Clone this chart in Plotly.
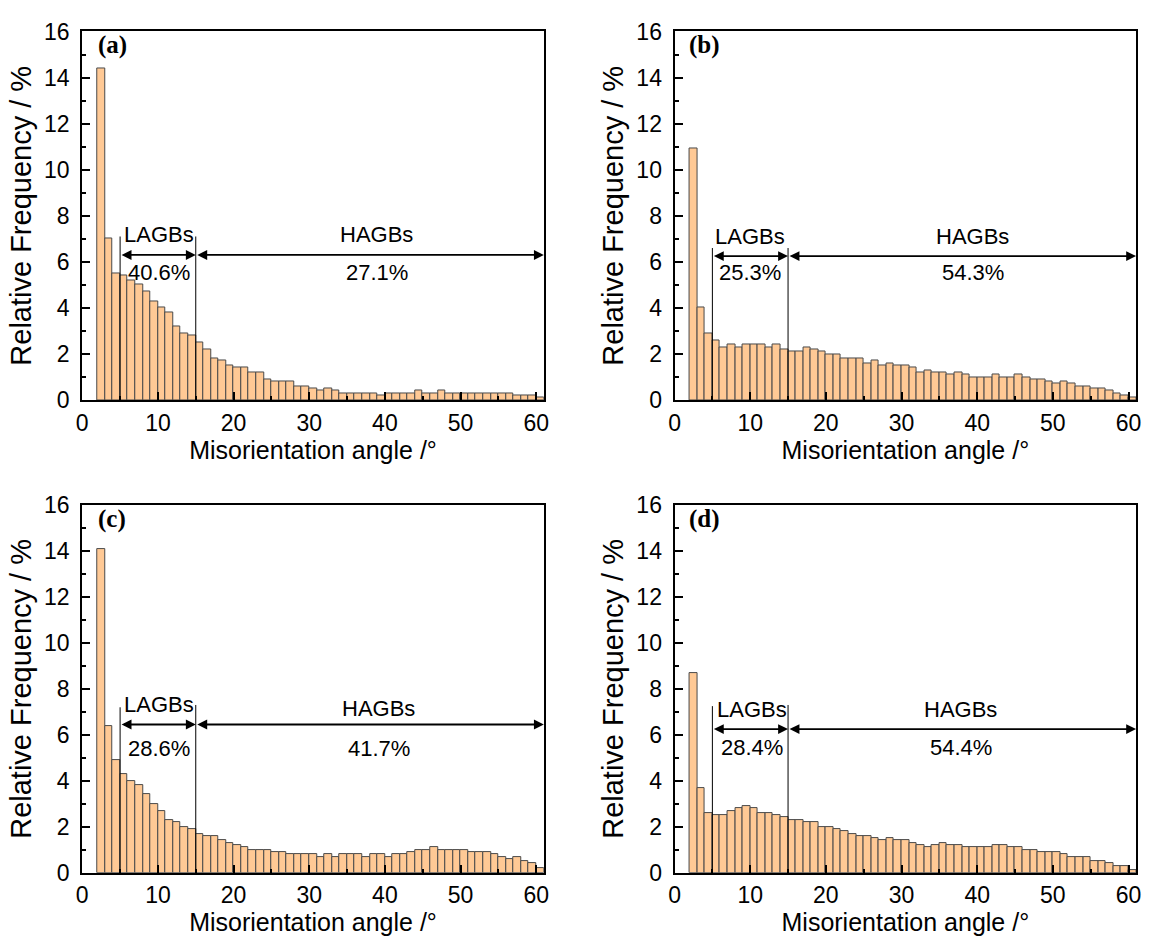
import numpy as np
import plotly.graph_objects as go

# Misorientation angle bins (1 degree wide, left edges 2..60)
bin_left = np.arange(2, 61)
bin_center = bin_left + 0.5

freq_a = [14.4, 7.0, 5.5, 5.4, 5.2, 5.0, 4.7, 4.3, 4.0, 3.8, 3.2, 2.9, 2.8, 2.5, 2.2,
          1.8, 1.7, 1.5, 1.4, 1.4, 1.2, 1.2, 0.9, 0.8, 0.8, 0.8, 0.6, 0.6, 0.5, 0.4,
          0.5, 0.4, 0.3, 0.3, 0.3, 0.3, 0.3, 0.2, 0.3, 0.3, 0.3, 0.3, 0.4, 0.3, 0.3,
          0.4, 0.3, 0.3, 0.3, 0.3, 0.3, 0.3, 0.3, 0.3, 0.3, 0.2, 0.2, 0.2, 0.1]
freq_b = [10.9, 4.0, 2.9, 2.6, 2.3, 2.4, 2.3, 2.4, 2.4, 2.4, 2.3, 2.4, 2.2, 2.1, 2.1,
          2.3, 2.2, 2.1, 2.0, 2.0, 1.8, 1.8, 1.8, 1.6, 1.7, 1.5, 1.6, 1.5, 1.5, 1.4,
          1.2, 1.3, 1.2, 1.2, 1.1, 1.2, 1.1, 1.0, 1.0, 1.0, 1.1, 1.0, 1.0, 1.1, 1.0,
          0.9, 0.9, 0.8, 0.7, 0.8, 0.7, 0.6, 0.6, 0.5, 0.5, 0.4, 0.3, 0.2, 0.1]
freq_c = [14.1, 6.4, 4.9, 4.3, 4.0, 3.8, 3.4, 3.0, 2.7, 2.3, 2.2, 2.0, 1.9, 1.7, 1.6,
          1.6, 1.4, 1.3, 1.2, 1.1, 1.0, 1.0, 1.0, 0.9, 0.9, 0.8, 0.8, 0.8, 0.8, 0.7,
          0.8, 0.7, 0.8, 0.8, 0.8, 0.7, 0.8, 0.8, 0.7, 0.8, 0.8, 0.9, 1.0, 1.0, 1.1,
          1.0, 1.0, 1.0, 1.0, 0.9, 0.9, 0.9, 0.8, 0.7, 0.6, 0.7, 0.5, 0.4, 0.2]
freq_d = [8.7, 3.7, 2.6, 2.5, 2.5, 2.7, 2.8, 2.9, 2.8, 2.6, 2.6, 2.5, 2.4, 2.3, 2.3,
          2.2, 2.2, 2.0, 2.0, 1.9, 1.8, 1.7, 1.6, 1.6, 1.5, 1.4, 1.5, 1.4, 1.4, 1.3,
          1.2, 1.1, 1.2, 1.3, 1.2, 1.2, 1.1, 1.1, 1.1, 1.1, 1.2, 1.2, 1.1, 1.1, 1.0,
          1.0, 0.9, 0.9, 0.9, 0.8, 0.7, 0.7, 0.7, 0.5, 0.5, 0.4, 0.3, 0.3, 0.1]

panel_tags = ["(a)", "(b)", "(c)", "(d)"]
lagb_share = ["40.6%", "25.3%", "28.6%", "28.4%"]
hagb_share = ["27.1%", "54.3%", "41.7%", "54.4%"]

# LAGB / HAGB boundaries (degrees)
lagb_start, hagb_start, angle_max = 5, 15, 61

# per-panel annotation heights (data units)
marker_top = [(7.1, 7.1), (6.6, 6.6), (7.2, 7.3), (7.25, 7.3)]
marker_bottom = [(0, 0), (0, 0), (0, -0.3), (0, -0.35)]
arrow_y = [6.3, 6.25, 6.45, 6.25]
lagb_label_y = [7.2, 7.1, 7.3, 7.1]
hagb_label_y = [7.2, 7.1, 7.15, 7.1]
share_y = [5.55, 5.55, 5.4, 5.45]
lagb_label_x = [10.2, 10.0, 10.1, 10.3]
hagb_label_x = [38.9, 39.4, 39.2, 37.8]

freqs = [freq_a, freq_b, freq_c, freq_d]

W, H = 1151, 946
# plot-area pixel boxes (left, right, top, bottom)
boxes = [(77, 543, 19, 398), (675, 1141, 19, 398),
         (77, 543, 506, 884), (675, 1141, 506, 884)]

FONT = "Liberation Sans, Arial, sans-serif"
fig = go.Figure()

layout = dict(width=W, height=H, margin=dict(l=0, r=0, t=0, b=0),
              plot_bgcolor="white", paper_bgcolor="white", showlegend=False,
              bargap=0, font=dict(family=FONT, color="black"))
annotations, shapes = [], []

for i, vals in enumerate(freqs):
    n = i + 1
    xa = "x" if n == 1 else f"x{n}"
    ya = "y" if n == 1 else f"y{n}"
    l, r, t, b = boxes[i]
    fig.add_trace(go.Bar(x=bin_center, y=vals, width=1.0, xaxis=xa, yaxis=ya,
                         marker=dict(color="#FFC995",
                                     line=dict(color="#4a4a4a", width=1))))
    axis_common = dict(showline=True, linecolor="black", linewidth=2, mirror=True,
                       showgrid=False, zeroline=False, ticks="inside",
                       tickcolor="black", tickwidth=1.5, ticklen=8,
                       tickfont=dict(family=FONT, size=23, color="black"))
    layout["xaxis" if n == 1 else f"xaxis{n}"] = dict(
        axis_common, domain=[l / W, r / W], anchor=ya, range=[0, angle_max],
        tickvals=[0, 10, 20, 30, 40, 50, 60], ticklabelstandoff=1,
        minor=dict(dtick=5, ticks="inside", ticklen=4, tickcolor="black", tickwidth=1.5),
        title=dict(text="Misorientation angle /°", font=dict(family=FONT, size=25),
                   standoff=3))
    layout["yaxis" if n == 1 else f"yaxis{n}"] = dict(
        axis_common, domain=[1 - b / H, 1 - t / H], anchor=xa, range=[0, 16],
        tickvals=list(range(0, 17, 2)), ticklabelstandoff=6,
        minor=dict(dtick=1, ticks="inside", ticklen=4, tickcolor="black", tickwidth=1.5),
        title=dict(text="Relative Frequency / %", font=dict(family=FONT, size=29),
                   standoff=4))

    # boundary markers at 5 deg and 15 deg
    for xv, bot, top in zip((lagb_start, hagb_start), marker_bottom[i], marker_top[i]):
        shapes.append(dict(type="line", xref=xa, yref=ya, x0=xv, x1=xv, y0=bot, y1=top,
                           line=dict(color="black", width=1)))
    # double-headed range arrows
    for x0, x1 in ((lagb_start, hagb_start), (hagb_start, angle_max)):
        annotations.append(dict(xref=xa, yref=ya, axref=xa, ayref=ya,
                                x=x1, y=arrow_y[i], ax=x0, ay=arrow_y[i], text="",
                                showarrow=True, arrowhead=2, arrowside="end+start",
                                arrowsize=1.1, arrowwidth=1.8, arrowcolor="black",
                                startarrowhead=2, startarrowsize=1.1))
    txt = dict(xref=xa, yref=ya, showarrow=False, font=dict(family=FONT, size=22))
    annotations += [
        dict(txt, x=lagb_label_x[i], y=lagb_label_y[i], text="LAGBs"),
        dict(txt, x=hagb_label_x[i], y=hagb_label_y[i], text="HAGBs"),
        dict(txt, x=lagb_label_x[i], y=share_y[i], text=lagb_share[i]),
        dict(txt, x=hagb_label_x[i], y=share_y[i], text=hagb_share[i]),
        dict(xref=xa, yref=ya, x=3.95, y=15.4, showarrow=False, text=f"<b>{panel_tags[i]}</b>",
             font=dict(family="Liberation Serif, Times New Roman, serif", size=25)),
    ]

layout["annotations"] = annotations
layout["shapes"] = shapes
fig.update_layout(**layout)
fig.write_html("out.html")
